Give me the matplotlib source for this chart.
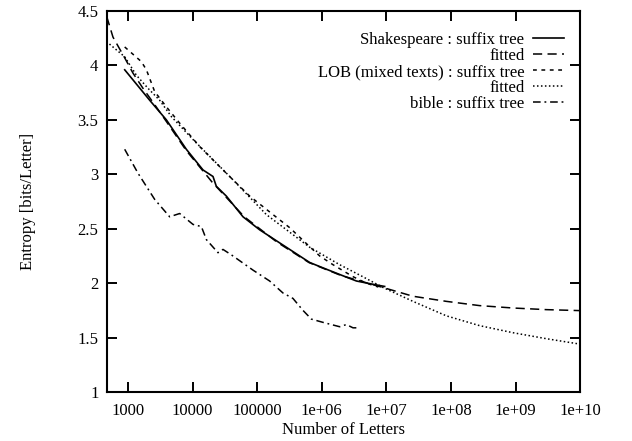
import matplotlib
matplotlib.use('Agg')
import matplotlib.pyplot as plt

plt.rcParams['font.family'] = ['Liberation Serif', 'DejaVu Serif']

# Shakespeare : suffix tree
shakes_n = [890, 2170, 3930, 8000, 14500, 20700, 23300, 33300, 60300, 109400,
            223000, 650000, 1.05e6, 1.89e6, 3.44e6, 6.2e6, 9.4e6]
shakes_h = [3.96, 3.68, 3.50, 3.23, 3.04, 2.98, 2.89, 2.80, 2.61, 2.49,
            2.37, 2.19, 2.14, 2.08, 2.02, 1.99, 1.97]

# Shakespeare : fitted
shakes_fit_n = [468, 586, 889, 1194, 1706, 2588, 3981, 7943, 19950, 63100,
                199500, 631000, 2.0e6, 6.31e6, 8.91e6, 2.58e7, 8.49e7,
                2.77e8, 9.12e8, 3.0e9, 1e10]
shakes_fit_h = [4.45, 4.26, 4.07, 3.93, 3.79, 3.64, 3.48, 3.22, 2.93, 2.61,
                2.38, 2.19, 2.07, 1.985, 1.96, 1.88, 1.833, 1.794, 1.772,
                1.757, 1.748]

# LOB (mixed texts) : suffix tree
lob_n = [889, 1611, 1928, 2168, 2588, 3926, 6310, 12880, 26300, 42170,
         76560, 175800, 318400, 650100, 929000, 1.49e6, 3.04e6, 4.9e6, 7.5e6]
lob_h = [4.17, 4.035, 3.96, 3.88, 3.76, 3.62, 3.47, 3.255, 3.07, 2.95,
         2.80, 2.63, 2.51, 2.335, 2.25, 2.17, 2.06, 2.00, 1.965]

# LOB : fitted
lob_fit_n = [463, 889, 1349, 2042, 3097, 4699, 10140, 42170, 138700, 316200,
             650100, 1.89e6, 4.3e6, 8.91e6, 2.58e7, 8.49e7, 2.77e8, 9.12e8,
             3.0e9, 1e10]
lob_fit_h = [4.22, 4.08, 3.91, 3.79, 3.68, 3.53, 3.32, 2.95, 2.63, 2.47,
             2.33, 2.17, 2.06, 1.96, 1.833, 1.70, 1.61, 1.545, 1.49, 1.44]

# bible : suffix tree
bible_n = [889, 1429, 2588, 4416, 6310, 10140, 13680, 16370, 24720, 29580,
           39900, 86100, 156000, 250600, 358100, 511700, 690200, 1.045e6,
           1.892e6, 2.404e6, 3.041e6, 3.9e6]
bible_h = [3.23, 3.01, 2.77, 2.61, 2.64, 2.54, 2.52, 2.40, 2.28, 2.31,
           2.26, 2.12, 2.02, 1.91, 1.86, 1.75, 1.67, 1.64, 1.60, 1.62,
           1.59, 1.59]

xticks = [1e3, 1e4, 1e5, 1e6, 1e7, 1e8, 1e9, 1e10]
xtick_labels = ['1000', '10000', '100000', '1e+06', '1e+07', '1e+08', '1e+09', '1e+10']
yticks = [1, 1.5, 2, 2.5, 3, 3.5, 4, 4.5]
ytick_labels = ['1', '1.5', '2', '2.5', '3', '3.5', '4', '4.5']

fig = plt.figure(figsize=(6.32, 4.41), dpi=100)
ax = fig.add_axes([0.169, 0.111, 0.749, 0.864])

ax.plot(shakes_n, shakes_h, color='black', lw=1.2, ls='-',
        label='Shakespeare : suffix tree')
ax.plot(shakes_fit_n, shakes_fit_h, color='black', lw=1.1, dashes=(6, 3.5),
        label='fitted')
ax.plot(lob_n, lob_h, color='black', lw=1.1, dashes=(2.5, 3),
        label='LOB (mixed texts) : suffix tree')
ax.plot(lob_fit_n, lob_fit_h, color='black', lw=1.1, dashes=(1, 1.6),
        label='fitted')
ax.plot(bible_n, bible_h, color='black', lw=1.1, dashes=(5, 2.5, 1.2, 2.5),
        label='bible : suffix tree')

ax.set_xscale('log')
ax.set_xlim(470, 1e10)
ax.set_ylim(1, 4.5)
ax.set_xticks(xticks)
ax.set_xticklabels(xtick_labels)
ax.set_yticks(yticks)
ax.set_yticklabels(ytick_labels)
ax.minorticks_off()
ax.tick_params(direction='in', length=7, width=1.4, top=True, right=True,
               labelsize=12)
ax.tick_params(axis='x', pad=8)
ax.tick_params(axis='y', pad=6)
for s in ax.spines.values():
    s.set_linewidth(1.5)

ax.set_xlabel('Number of Letters', fontsize=12, labelpad=2)
ax.set_ylabel('Entropy [bits/Letter]', fontsize=12, labelpad=30)

leg = ax.legend(loc='upper right', frameon=False, markerfirst=False,
                alignment='right', fontsize=12, handlelength=1.9,
                handletextpad=0.5, labelspacing=0.0,
                borderaxespad=0.4, bbox_to_anchor=(0.995, 0.98))

fig.savefig('out.png', dpi=100)
